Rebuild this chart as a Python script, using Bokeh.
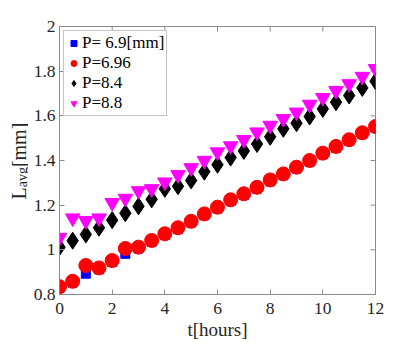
import math
from bokeh.plotting import figure
from bokeh.layouts import row
from bokeh.models import Range1d, FixedTicker, CustomJSTickFormatter, Label
from bokeh.embed import file_html
from bokeh.resources import INLINE

# ---- data ----
t_hours = [0, 0.5, 1, 1.5, 2, 2.5, 3, 3.5, 4, 4.5, 5, 5.5, 6,
           6.5, 7, 7.5, 8, 8.5, 9, 9.5, 10, 10.5, 11, 11.5, 12]
p_6_9 = [0.829, 0.853, 0.893, 0.913, 0.946, 0.982, 1.006, 1.036, 1.066, 1.093,
         1.122, 1.155, 1.185, 1.218, 1.245, 1.274, 1.307, 1.334, 1.364, 1.394,
         1.427, 1.457, 1.487, 1.518, 1.546]
p_6_96 = [0.835, 0.859, 0.930, 0.919, 0.952, 1.006, 1.012, 1.042, 1.072, 1.099,
          1.128, 1.161, 1.191, 1.224, 1.251, 1.280, 1.313, 1.340, 1.370, 1.400,
          1.433, 1.463, 1.493, 1.524, 1.552]
p_8_4 = [1.012, 1.041, 1.069, 1.099, 1.133, 1.164, 1.195, 1.226, 1.273, 1.285,
         1.311, 1.350, 1.381, 1.413, 1.443, 1.474, 1.506, 1.542, 1.567, 1.597,
         1.631, 1.661, 1.691, 1.725, 1.755]
p_8_8 = [1.055, 1.142, 1.130, 1.142, 1.211, 1.230, 1.264, 1.273, 1.303, 1.336,
         1.367, 1.400, 1.438, 1.465, 1.493, 1.527, 1.557, 1.587, 1.616, 1.651,
         1.681, 1.713, 1.743, 1.776, 1.811]

series_labels = ["P= 6.9[mm]", "P=6.96", "P=8.4", "P=8.8"]
x_ticks = [0, 2, 4, 6, 8, 10, 12]
y_ticks = [0.8, 1.0, 1.2, 1.4, 1.6, 1.8, 2.0]
x_min, x_max = 0, 12
y_min, y_max = 0.8, 2.0
x_label = "t[hours]"
y_label_main = "L"
y_label_sub = "avg"
y_label_unit = "[mm]"

FONT = "Liberation Serif"
QFONT = "'Liberation Serif'"
GREY = "#8a8a8a"
TXT = "#262626"

H = 344
STRIP_W = 28          # narrow strip holding the y-axis title
MAIN_W = 415 - STRIP_W
FRAME_TOP, FRAME_BOTTOM = 26, 294

# ---- strip with the y-axis title (L_avg[mm], rotated) ----
strip = figure(width=STRIP_W, height=H, output_backend="svg", toolbar_location=None,
               x_axis_type=None, y_axis_type=None,
               min_border=0, min_border_left=0, min_border_right=0,
               min_border_top=FRAME_TOP, min_border_bottom=H - FRAME_BOTTOM)
strip.outline_line_color = None
strip.xgrid.visible = False
strip.ygrid.visible = False
strip.background_fill_color = "white"
strip.border_fill_color = "white"

ang = math.pi / 2
# screen units inside the strip frame: x from its left edge, y up from the frame bottom
strip.add_layout(Label(x=18, y=FRAME_BOTTOM - 199, x_units="screen", y_units="screen",
                       text=y_label_main, angle=ang, text_font=FONT, text_font_size="20px",
                       text_color=TXT, text_align="left", text_baseline="alphabetic"))
strip.add_layout(Label(x=21.5, y=FRAME_BOTTOM - 186.8, x_units="screen", y_units="screen",
                       text=y_label_sub, angle=ang, text_font=FONT, text_font_size="14px",
                       text_color=TXT, text_align="left", text_baseline="alphabetic"))
strip.add_layout(Label(x=18, y=FRAME_BOTTOM - 166.6, x_units="screen", y_units="screen",
                       text=y_label_unit, angle=ang, text_font=FONT, text_font_size="20px",
                       text_color=TXT, text_align="left", text_baseline="alphabetic"))

# ---- main plot ----
p = figure(width=MAIN_W, height=H, output_backend="svg", toolbar_location=None,
           x_range=Range1d(x_min, x_max), y_range=Range1d(y_min, y_max),
           min_border_left=59 - STRIP_W, min_border_right=40,
           min_border_top=FRAME_TOP, min_border_bottom=H - FRAME_BOTTOM)
p.background_fill_color = "white"
p.border_fill_color = "white"
p.outline_line_color = GREY
p.outline_line_width = 1
p.xgrid.visible = False
p.ygrid.visible = False

fmt = CustomJSTickFormatter(code="return String(Math.round(tick*10)/10)")

def style_axis(ax, ticks, standoff):
    ax.ticker = FixedTicker(ticks=ticks)
    ax.formatter = fmt
    ax.axis_line_color = GREY
    ax.major_tick_line_color = GREY
    ax.major_tick_in = 5
    ax.major_tick_out = 0
    ax.minor_tick_line_color = None
    ax.major_label_text_font = QFONT
    ax.major_label_text_font_size = "17.5px"
    ax.major_label_text_color = TXT
    ax.major_label_standoff = standoff

style_axis(p.xaxis[0], x_ticks, 8)
style_axis(p.yaxis[0], y_ticks, 4)

xa = p.xaxis[0]
xa.axis_label = x_label
xa.axis_label_text_font = QFONT
xa.axis_label_text_font_size = "19px"
xa.axis_label_text_font_style = "normal"
xa.axis_label_text_color = TXT
xa.axis_label_standoff = 2

# mirrored inward ticks on the top and right edges (half of each dash is clipped by the frame)
p.scatter(x_ticks, [y_max] * len(x_ticks), marker="dash", angle=math.pi / 2,
          size=10, line_color=GREY, line_width=1)
p.scatter([x_max] * len(y_ticks), y_ticks, marker="dash",
          size=10, line_color=GREY, line_width=1)

p.scatter(t_hours, p_6_9, marker="square", size=9, color="#0000ff",
          legend_label=series_labels[0])
p.scatter(t_hours, p_6_96, marker="circle", size=14, color="#ff0000",
          legend_label=series_labels[1])
p.scatter(t_hours, p_8_4, marker="diamond", size=17, color="#000000",
          legend_label=series_labels[2])
p.scatter(t_hours, p_8_8, marker="inverted_triangle", size=14.5, color="#ff00ff",
          legend_label=series_labels[3])

lg = p.legend[0]
lg.location = "top_left"
lg.margin = 4
lg.padding = 2
lg.spacing = 0
lg.glyph_width = 15
lg.glyph_height = 20
lg.label_height = 20
lg.label_standoff = 1
lg.label_text_font = FONT
lg.label_text_font_size = "17px"
lg.label_text_color = "#000000"
lg.border_line_color = GREY
lg.border_line_width = 1
lg.background_fill_alpha = 1.0

layout = row(strip, p, spacing=0)
open("out.html", "w").write(file_html(layout, INLINE))
